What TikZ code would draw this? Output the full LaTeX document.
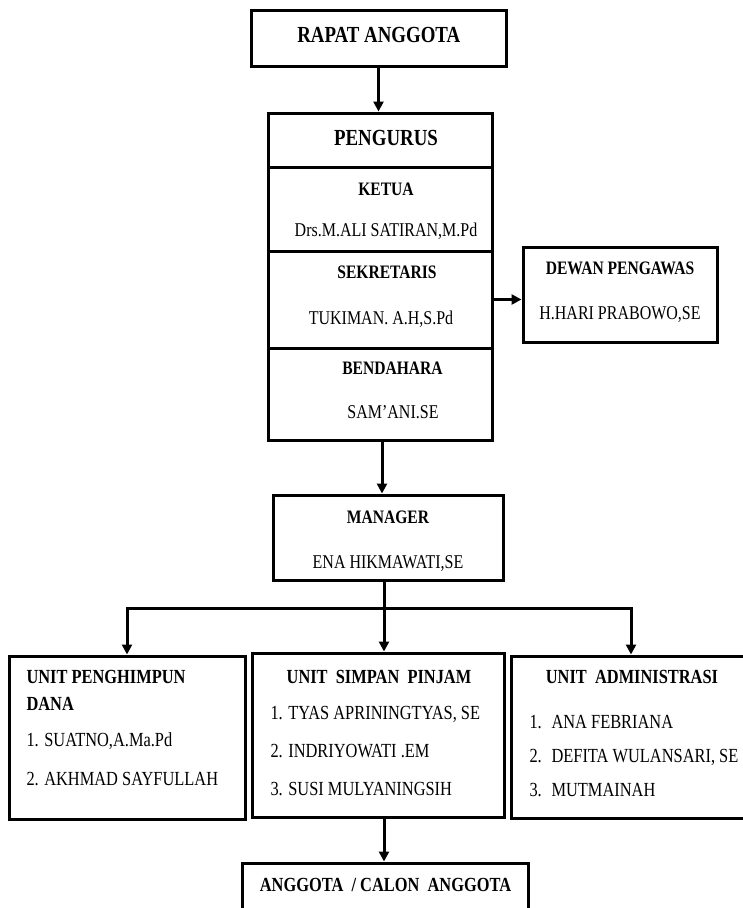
\documentclass[tikz,border=0pt]{standalone}
\usepackage{fontspec}
\setmainfont{Liberation Serif}[FakeStretch=0.82]
\usetikzlibrary{arrows.meta,positioning}

\begin{document}
\begin{tikzpicture}[x=1pt,y=-1pt,
    box/.style={draw,line width=3pt,rectangle,inner sep=0pt},
    big/.style={font=\fontsize{23}{25}\selectfont\bfseries,anchor=base},
    head/.style={font=\fontsize{19}{21}\selectfont\bfseries,anchor=base},
    person/.style={font=\fontsize{19.5}{21}\selectfont,anchor=base},
    unithead/.style={font=\fontsize{20}{22}\selectfont\bfseries,anchor=base},
    item/.style={font=\fontsize{20}{22}\selectfont,anchor=base west},
    arr/.style={line width=3pt,-{Triangle[length=10pt,width=10pt]}},
    link/.style={line width=3pt}]
        \useasboundingbox (0,0) rectangle (743,908);
        \clip (0,0) rectangle (743,908);
        %Boxes
        \node[box,minimum width=255pt,minimum height=56pt] (rapat) at (378.5,38) {};
        \node[box,minimum width=224pt,minimum height=54pt] (p0) at (380,140) {};
        \node[box,minimum width=224pt,minimum height=84pt] (p1) at (380,209) {};
        \node[box,minimum width=224pt,minimum height=97pt] (p2) at (380,299.5) {};
        \node[box,minimum width=224pt,minimum height=92pt] (p3) at (380,394) {};
        \node[box,minimum width=194pt,minimum height=95pt] (dewan) at (620,294.5) {};
        \node[box,minimum width=230pt,minimum height=85pt] (mgr) at (388,537.5) {};
        \node[box,minimum width=236pt,minimum height=163pt] (u1) at (127,737.5) {};
        \node[box,minimum width=252pt,minimum height=164pt] (u2) at (378,735) {};
        \node[box,minimum width=240pt,minimum height=162pt] (u3) at (631,737) {};
        \node[box,minimum width=286pt,minimum height=87pt] (ang) at (385,906.5) {};
        %Texts
        \node[big] (tRapat) at (378.8,42.6) {RAPAT ANGGOTA};
        \node[big] (tPengurus) at (386,145.6) {PENGURUS};
        \node[head] (tKetua) at (386,195.3) {KETUA};
        \node[person] (nKetua) at (386,236.4) {Drs.M.ALI SATIRAN,M.Pd};
        \node[head] (tSekre) at (387,278.3) {SEKRETARIS};
        \node[person] (nSekre) at (381,324.4) {TUKIMAN. A.H,S.Pd};
        \node[head] (tBenda) at (392.5,374.3) {BENDAHARA};
        \node[person] (nBenda) at (393,418.4) {SAM'ANI.SE};
        \node[head] (tDewan) at (620,274.3) {DEWAN PENGAWAS};
        \node[person] (nDewan) at (620,319.4) {H.HARI PRABOWO,SE};
        \node[head] (tMgr) at (388,523.3) {MANAGER};
        \node[person] (nMgr) at (388,568.4) {ENA HIKMAWATI,SE};
        \node[unithead,anchor=base west] (tU1a) at (23,683.6) {UNIT PENGHIMPUN};
        \node[unithead,anchor=base west] (tU1b) at (23,710.6) {DANA};
        \node[item] (u1i1) at (23,746.5) {1. SUATNO,A.Ma.Pd};
        \node[item] (u1i2) at (23,785.5) {2. AKHMAD SAYFULLAH};
        \node[unithead] (tU2) at (379,683.6) {UNIT\ \ SIMPAN\ \ PINJAM};
        \node[item] (u2i1) at (267,719.5) {1. TYAS APRININGTYAS, SE};
        \node[item] (u2i2) at (267,757.5) {2. INDRIYOWATI .EM};
        \node[item] (u2i3) at (267,795.5) {3. SUSI MULYANINGSIH};
        \node[unithead] (tU3) at (632,683.6) {UNIT\ \ ADMINISTRASI};
        \node[item] (u3i1) at (526,728.5) {\makebox[22pt][l]{1.}ANA FEBRIANA};
        \node[item] (u3i2) at (526,762.5) {\makebox[22pt][l]{2.}DEFITA WULANSARI, SE};
        \node[item] (u3i3) at (526,796.5) {\makebox[22pt][l]{3.}MUTMAINAH};
        \node[unithead] (tAng) at (385.5,891.6) {ANGGOTA\ \ / CALON\ \ ANGGOTA};
        %Arrows
        \draw[arr] (rapat.south) -- (rapat.south |- p0.north);
        \draw[arr] (p2.east) -- (p2.east -| dewan.west);
        \draw[arr] ([xshift=2pt]p3.south) -- ([xshift=2pt]p3.south |- mgr.north);
        \coordinate (bus) at (384,608);
        \draw[link] (mgr.south -| bus) -- (bus);
        \draw[arr] (bus) -- (bus |- u2.north);
        \draw[arr] (bus) -| (u1.north);
        \draw[arr] (bus) -| (u3.north);
        \draw[arr] (u2.south -| bus) -- (bus |- ang.north);
      \end{tikzpicture}
\end{document}
